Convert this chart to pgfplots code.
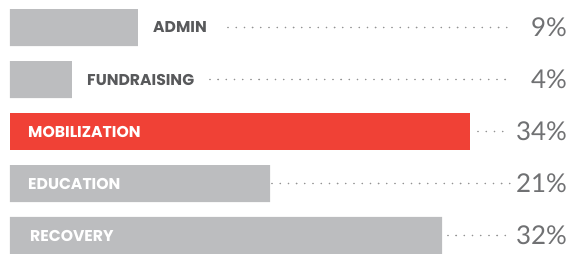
\documentclass[border=0pt]{standalone}
\usepackage{fontspec}
\usepackage{pgfplots}
\pgfplotsset{compat=1.18}
\setmainfont{Lato}
\newfontfamily\pctfont{Lato}
\newfontfamily\lblfont{Poppins}
\definecolor{bargray}{HTML}{BCBDBF}
\definecolor{barred}{HTML}{F04136}
\definecolor{lbldark}{HTML}{58595B}
\definecolor{pctgray}{HTML}{707173}
\definecolor{dotgray}{HTML}{939393}
\tikzset{lbl/.style={anchor=west, inner sep=0pt, font=\fontsize{15.7}{17}\selectfont\lblfont\bfseries}}
\begin{document}
\begin{tikzpicture}[x=1bp,y=1bp]
\begin{axis}[
  scale only axis, width=582bp, height=272bp,
  hide axis,
  xmin=-0.7407, xmax=42.370,
  ymin=-0.529, ymax=4.702, y dir=reverse,
  xbar, bar width=37bp, bar shift=0pt,
  clip=false,
]
% bar lengths as drawn (percent units)
\addplot[draw=none, fill=bargray] coordinates {(9.48,0) (4.59,1) (19.26,3) (32.0,4)};
\addplot[draw=none, fill=barred] coordinates {(34.07,2)};
% dotted leaders
\pgfplotsset{leader/.style={xbar=0pt, draw=dotgray, line width=1.8bp, line cap=round, dash pattern=on 0pt off 8.2bp, mark=none, forget plot}}
\addplot[leader, sharp plot] coordinates {(16.15,0) (37.04,0)};
\addplot[leader, sharp plot] coordinates {(14.81,1) (37.04,1)};
\addplot[leader, sharp plot] coordinates {(34.67,2) (37.04,2)};
\addplot[leader, sharp plot] coordinates {(19.41,3) (37.04,3)};
\addplot[leader, sharp plot] coordinates {(32.44,4) (37.04,4)};
% category labels
\node[lbl, text=lbldark] at (axis cs:{(153-10)/13.5},0) {ADMIN};
\node[lbl, text=lbldark] at (axis cs:{(87-10)/13.5},1) {FUNDRAISING};
\node[lbl, text=white] at (axis cs:{(28-10)/13.5},2) {MOBILIZATION};
\node[lbl, text=white] at (axis cs:{(28-10)/13.5},3) {EDUCATION};
\node[lbl, text=white] at (axis cs:{(30-10)/13.5},4) {RECOVERY};
% percentages
\foreach \v/\i in {9/0,4/1,34/2,21/3,32/4}{
  \edef\tmp{\noexpand\node[anchor=east, inner sep=0pt, text=pctgray, font=\noexpand\fontsize{26}{28}\noexpand\selectfont\noexpand\pctfont] at (axis cs:41.26,\i) {\v\noexpand\%};}
  \tmp
}
\end{axis}
\pgfresetboundingbox
\path (current axis.south west) rectangle (current axis.north east);
\end{tikzpicture}
\end{document}
